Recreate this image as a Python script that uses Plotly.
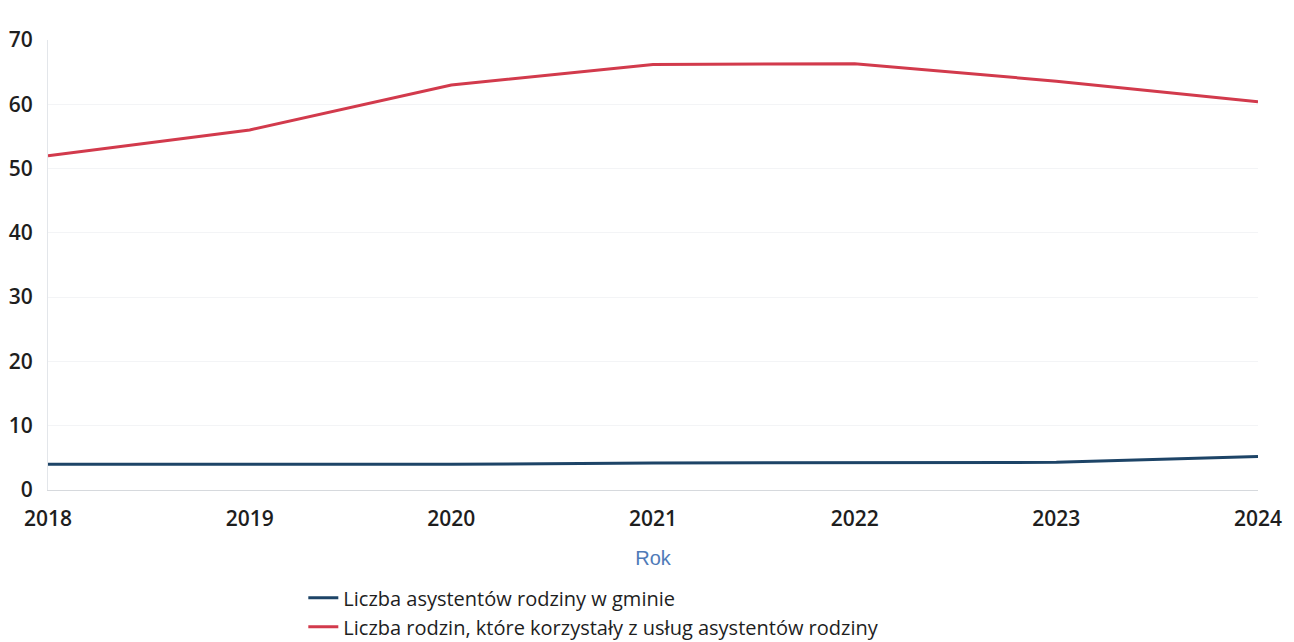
import plotly.graph_objects as go

years = [2018, 2019, 2020, 2021, 2022, 2023, 2024]
asystenci = [4, 4, 4, 4.2, 4.2, 4.3, 5.2]
rodziny = [52, 56, 63, 66.2, 66.3, 63.6, 60.4]

fig = go.Figure()
fig.add_trace(go.Scatter(
    x=years, y=asystenci, mode="lines",
    name="Liczba asystentów rodziny w gminie",
    line=dict(color="#1d4467", width=3),
))
fig.add_trace(go.Scatter(
    x=years, y=rodziny, mode="lines",
    name="Liczba rodzin, które korzystały z usług asystentów rodziny",
    line=dict(color="#d23a4c", width=3),
))

font_family = "Open Sans, Noto Sans, sans-serif"
# page body has an 8px default margin, so the figure is offset by 8px
fig.update_layout(
    width=1294, height=642,
    margin=dict(l=40, r=44, t=32, b=160, autoexpand=False),
    paper_bgcolor="white", plot_bgcolor="white",
    font=dict(family=font_family, size=21, color="#1e1e1e", weight=600),
    showlegend=True,
    legend=dict(
        orientation="v", x=0.211, xanchor="left", y=-0.196, yanchor="top",
        font=dict(family=font_family, size=20, color="#1e1e1e", weight=500),
        itemwidth=30, tracegroupgap=0, bgcolor="rgba(0,0,0,0)",
    ),
    xaxis=dict(
        range=[2018, 2024], tickvals=years, ticktext=[str(y) for y in years],
        showgrid=False, showline=True, linecolor="#d6d9dd", linewidth=1,
        ticks="", ticklabelstandoff=10, automargin=False,
        title=dict(text="Rok", font=dict(family="Liberation Sans, Arial, sans-serif", size=20, color="#4f7bb8", weight=400), standoff=19),
        zeroline=False,
    ),
    yaxis=dict(
        range=[0, 70], tickvals=[0, 10, 20, 30, 40, 50, 60, 70],
        showgrid=True, gridcolor="#f3f4f6", gridwidth=1,
        showline=True, linecolor="#e3e6ea", linewidth=1,
        ticks="", ticklabelstandoff=10, zeroline=False, automargin=False,
    ),
)

fig.write_html("out.html")
